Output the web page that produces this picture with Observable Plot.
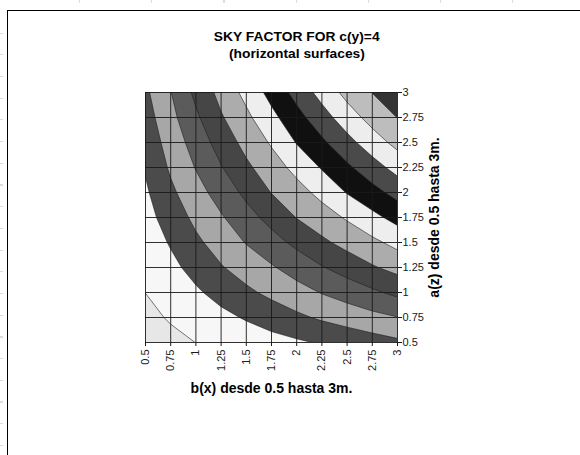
<!DOCTYPE html>
<html><head><meta charset="utf-8">
<script src="https://cdn.jsdelivr.net/npm/d3@7"></script>
<script src="https://cdn.jsdelivr.net/npm/@observablehq/plot@0.6"></script>
<style>
body{margin:0;background:#fff;font-family:"Liberation Sans",Arial,sans-serif;}
#wrap{position:relative;width:580px;height:455px;overflow:hidden;background:#fff}
#wrap svg{position:absolute;left:0;top:0}
.title{position:absolute;left:0;width:594px;text-align:center;font-weight:bold;font-size:12.8px;color:#000;line-height:15px}
.title span{display:inline-block;transform:scaleX(1.08)}
#border{position:absolute;left:7px;top:10px;width:600px;height:500px;border-top:1px solid #000;border-left:1px solid #000}
#leftmarks{position:absolute;left:0;top:12px;width:3px;height:443px;
  background:repeating-linear-gradient(to bottom, transparent 0, transparent 20.5px, #dcdcdc 20.5px, #dcdcdc 21.7px)}
#topmarks{position:absolute;left:8px;top:0;width:572px;height:3px;
  background:repeating-linear-gradient(to right, transparent 0, transparent 71px, #dcdcdc 71px, #dcdcdc 72.2px)}
</style></head><body>
<div id="wrap">
 <div id="border"></div>
 <div id="leftmarks"></div>
 <div id="topmarks"></div>
 <div class="title" style="top:29px"><span>SKY FACTOR FOR c(y)=4</span></div>
 <div class="title" style="top:46px"><span>(horizontal surfaces)</span></div>
</div>
<script>
// grid positions (metres) for b(x) columns and a(z) rows
const bValues = [0.5, 0.75, 1, 1.25, 1.5, 1.75, 2, 2.25, 2.5, 2.75, 3];
const aValues = [0.5, 0.75, 1, 1.25, 1.5, 1.75, 2, 2.25, 2.5, 2.75, 3];
const tickLabels = ["0.5", "0.75", "1", "1.25", "1.5", "1.75", "2", "2.25", "2.5", "2.75", "3"];
// contour band level read at each grid node; one row per a(z), columns follow b(x)
const row_a050 = [0.40, 0.70, 1.01, 1.22, 1.43, 1.65, 1.86, 2.09, 2.33, 2.57, 2.81];
const row_a075 = [0.70, 1.11, 1.43, 1.75, 2.09, 2.45, 2.81, 3.14, 3.42, 3.71, 3.97];
const row_a100 = [1.01, 1.43, 1.86, 2.33, 2.81, 3.23, 3.62, 4.05, 4.42, 4.83, 5.23];
const row_a125 = [1.22, 1.75, 2.33, 2.93, 3.42, 3.90, 4.42, 4.94, 5.42, 5.90, 6.31];
const row_a150 = [1.43, 2.09, 2.81, 3.42, 4.05, 4.63, 5.23, 5.81, 6.31, 6.78, 7.29];
const row_a175 = [1.65, 2.45, 3.23, 3.90, 4.63, 5.33, 6.03, 6.55, 7.11, 7.73, 8.33];
const row_a200 = [1.86, 2.81, 3.62, 4.42, 5.23, 6.03, 6.63, 7.29, 8.05, 8.67, 9.33];
const row_a225 = [2.09, 3.14, 4.05, 4.94, 5.81, 6.55, 7.29, 8.08, 8.83, 9.58, 10.36];
const row_a250 = [2.33, 3.42, 4.42, 5.42, 6.31, 7.11, 8.05, 8.83, 9.67, 10.54, 11.29];
const row_a275 = [2.57, 3.71, 4.83, 5.90, 6.78, 7.73, 8.67, 9.58, 10.54, 11.35, 12.02];
const row_a300 = [2.81, 3.97, 5.23, 6.31, 7.29, 8.33, 9.33, 10.36, 11.29, 12.02, 12.70];
const bandLevels = [0, 1, 2, 3, 4, 5, 6, 7, 8, 9, 10, 11, 12];

const rows = [row_a050, row_a075, row_a100, row_a125, row_a150, row_a175, row_a200, row_a225, row_a250, row_a275, row_a300];
const grid = rows.flat();
const n = bValues.length, m = aValues.length;
const stepB = bValues[1] - bValues[0], stepA = aValues[1] - aValues[0];
const ext = {
  width: n, height: m,
  x1: bValues[0] - stepB / 2, x2: bValues[n - 1] + stepB / 2,
  y1: aValues[0] - stepA / 2, y2: aValues[m - 1] + stepA / 2
};
const bandColors = ["#e7e7e7", "#f7f7f7", "#4b4b4b", "#a7a7a7", "#5b5b5b", "#464646",
  "#acacac", "#eeeeee", "#101010", "#4a4a4a", "#ededed", "#bdbdbd", "#333333"];
const fmt = (d) => tickLabels[bValues.indexOf(d)];

const chart = Plot.plot({
  width: 580, height: 455,
  marginLeft: 145, marginRight: 183, marginTop: 92, marginBottom: 113,
  style: {fontFamily: "'Liberation Sans', Arial, sans-serif", fontSize: "11px", color: "#1a1a1a", background: "transparent"},
  x: {domain: [bValues[0], bValues[n - 1]]},
  y: {domain: [aValues[0], aValues[m - 1]]},
  color: {type: "ordinal", domain: bandLevels, range: bandColors},
  marks: [
    Plot.contour(grid, {...ext, thresholds: bandLevels, fill: Plot.identity, stroke: "none", clip: true}),
    Plot.contour(grid, {...ext, thresholds: bandLevels.slice(1), fill: "none", stroke: "#1e1e1e", strokeWidth: 0.6, clip: true}),
    Plot.gridX(bValues, {stroke: "#1a1a1a", strokeOpacity: 0.9, strokeWidth: 1}),
    Plot.gridY(aValues, {stroke: "#1a1a1a", strokeOpacity: 0.9, strokeWidth: 1}),
    Plot.axisY(aValues, {anchor: "right", tickSize: 4, tickPadding: 1, tickFormat: fmt, label: null}),
    Plot.axisX(bValues, {anchor: "bottom", tickRotate: -90, tickSize: 4, tickPadding: 3, tickFormat: fmt, label: null}),
    Plot.text(["b(x) desde 0.5 hasta 3m."], {frameAnchor: "bottom", dy: 46, lineAnchor: "middle", textAnchor: "middle", fontWeight: "bold", fontSize: 14, fill: "#000"}),
    Plot.text(["a(z) desde 0.5 hasta 3m."], {frameAnchor: "right", dx: 37, rotate: -90, textAnchor: "middle", lineAnchor: "middle", fontWeight: "bold", fontSize: 14, fill: "#000"})
  ]
});
document.getElementById("wrap").appendChild(chart);
</script>
</body></html>
